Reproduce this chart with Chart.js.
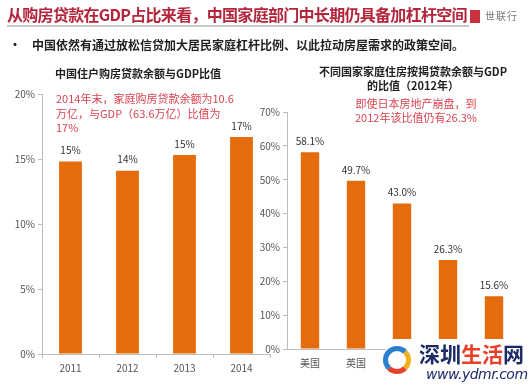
<!DOCTYPE html>
<html>
<head>
<meta charset="utf-8">
<script src="https://cdn.jsdelivr.net/npm/chart.js@4/dist/chart.umd.min.js"></script>
<style>
  body { margin: 0; width: 531px; height: 385px; background: #fff; position: relative; overflow: hidden;
         font-family: "Noto Sans CJK SC", "Noto Sans", sans-serif; }
  canvas { position: absolute; left: 0; top: 0; }
  .t { position: absolute; white-space: nowrap; }
  #title { left: 7px; top: 4px; font-size: 16px; font-weight: bold; color: #b3263c; letter-spacing: -0.7px;
           border-bottom: 2px solid #c9c9c9; line-height: 21px; padding-right: 2px; }
  #logo { left: 470px; top: 10px; width: 10px; height: 13px; background: #c8323e; }
  #brand { left: 485px; top: 8px; font-size: 10px; color: #777; letter-spacing: 1px; }
  #bullet { left: 9px; top: 36px; font-size: 12px; font-weight: bold; color: #222; }
  .ct { font-size: 11px; font-weight: bold; color: #222; text-align: center; line-height: 14px; }
  .note { font-size: 11px; color: #d9434f; line-height: 14.5px; }
  #wm { left: 386px; top: 339px; width: 145px; height: 46px; background: #fff; }
  #wm1 { left: 419px; top: 338px; font-size: 21px; font-weight: bold; color: #1c2a66; letter-spacing: 0px; }
  #wm1 span { color: #e8402a; }
  #wm2 { left: 426px; top: 366px; font-size: 14px; font-style: italic; color: #1c2a66; font-family: "DejaVu Sans", sans-serif; letter-spacing: -0.5px; }
  #swirl { left: 383px; top: 346px; width: 28px; height: 28px; border-radius: 50%;
           border: 5px solid #2a7fd0; border-right-color: #f2b21e; border-bottom-color: #e5402e; box-sizing: border-box; }
</style>
</head>
<body>
<canvas id="c1" width="531" height="385"></canvas>
<canvas id="c2" width="531" height="385"></canvas>

<div class="t" id="title">从购房贷款在GDP占比来看，中国家庭部门中长期仍具备加杠杆空间</div>
<div class="t" id="logo"></div>
<div class="t" id="brand">世联行</div>
<div class="t" id="bullet">•&nbsp;&nbsp;&nbsp;&nbsp;中国依然有通过放松信贷加大居民家庭杠杆比例、以此拉动房屋需求的政策空间。</div>

<div class="t ct" style="left:55px; top:66px;">中国住户购房贷款余额与GDP比值</div>
<div class="t note" style="left:56px; top:91px;">2014年末，家庭购房贷款余额为10.6<br>万亿，与GDP（63.6万亿）比值为<br>17%</div>

<div class="t ct" style="left:318px; top:64px; width:190px;">不同国家家庭住房按揭贷款余额与GDP<br>的比值（2012年）</div>
<div class="t note" style="left:355px; top:97px; text-align:center; line-height:13.5px;">即使日本房地产崩盘，到<br>2012年该比值仍有26.3%</div>

<div class="t" id="wm"></div>
<div class="t" id="swirl"></div>
<div class="t" id="wm1">深圳<span>生活</span>网</div>
<div class="t" id="wm2">www.ydmr.com</div>

<script>
// 左图：中国住户购房贷款余额与GDP比值
var years = ['2011', '2012', '2013', '2014'];
var chinaRatio = [14.8, 14.1, 15.3, 16.7];
var chinaLabels = ['15%', '14%', '15%', '17%'];

// 右图：不同国家（2012年）
var countries = ['美国', '英国', '德国', '日本', '中国'];
var countryRatio = [58.1, 49.7, 43.0, 26.3, 15.6];
var countryLabels = ['58.1%', '49.7%', '43.0%', '26.3%', '15.6%'];

var orange = '#e46c0a';
var axisGray = '#bdbdbd';
var font = "'Noto Sans CJK SC', 'Noto Sans', sans-serif";

// draws the value above each bar
var valueLabels = {
  id: 'valueLabels',
  afterDatasetsDraw: function(chart, args, opts) {
    var ctx = chart.ctx;
    var meta = chart.getDatasetMeta(0);
    ctx.save();
    ctx.fillStyle = '#333';
    ctx.font = '10px ' + font;
    ctx.textAlign = 'center';
    ctx.textBaseline = 'bottom';
    meta.data.forEach(function(bar, i) {
      ctx.fillText(opts.labels[i], bar.x, bar.y - 6);
    });
    ctx.restore();
  }
};

function makeChart(id, labels, values, texts, yMax, yStep, pad, barPct, yWidth, xTicks) {
  return new Chart(id, {
    type: 'bar',
    data: {
      labels: labels,
      datasets: [{ data: values, backgroundColor: orange, barPercentage: barPct, categoryPercentage: 1 }]
    },
    options: {
      responsive: false,
      animation: false,
      layout: { padding: pad },
      plugins: { legend: { display: false }, tooltip: { enabled: false }, valueLabels: { labels: texts } },
      scales: {
        x: {
          grid: { display: xTicks, drawOnChartArea: false, tickLength: 4, color: axisGray },
          border: { color: axisGray },
          ticks: { color: '#555', font: { size: 10, family: font }, padding: 4 },
          afterFit: function(s) { s.height = 22; }
        },
        y: {
          min: 0, max: yMax,
          grid: { drawOnChartArea: false, tickLength: 4, color: axisGray },
          border: { color: axisGray },
          ticks: { stepSize: yStep, color: '#555', font: { size: 10, family: font }, padding: 3,
                   callback: function(v) { return v + '%'; } },
          afterFit: function(s) { s.width = yWidth; }
        }
      }
    },
    plugins: [valueLabels]
  });
}

makeChart('c1', years, chinaRatio, chinaLabels, 20, 5,
  { left: 0, right: 261, top: 94, bottom: 9 }, 0.4, 42, true);
makeChart('c2', countries, countryRatio, countryLabels, 70, 10,
  { left: 258, right: 14, top: 112, bottom: 14 }, 0.4, 29, false);
</script>
</body>
</html>
